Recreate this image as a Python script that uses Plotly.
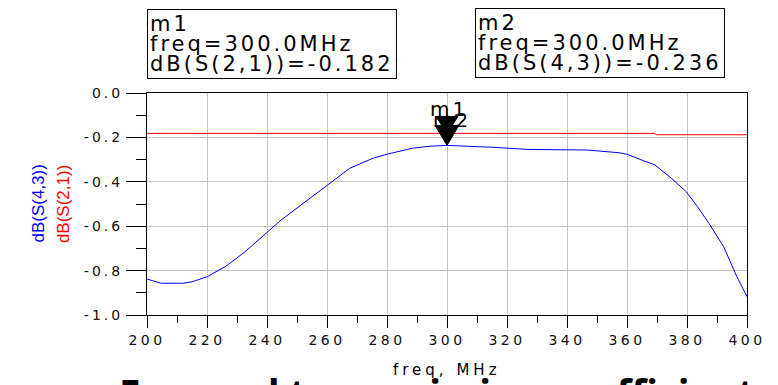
import plotly.graph_objects as go

# ---------------- data ----------------
freq_43 = [200, 204.8, 211.9, 215.2, 220.1, 226.1, 232.7, 239.8, 244.7, 251.3,
           259.4, 267.6, 275.3, 280.2, 288.4, 294, 300, 307, 316, 326.7,
           336, 346.9, 357.3, 360, 364.9, 369.3, 374.8, 379.7, 383.5, 387.3,
           392.2, 396.6, 400]
db_s43 = [-0.838, -0.857, -0.857, -0.850, -0.827, -0.782, -0.715, -0.632, -0.572, -0.505,
          -0.422, -0.339, -0.294, -0.275, -0.249, -0.240, -0.236, -0.239, -0.245, -0.254,
          -0.255, -0.257, -0.269, -0.276, -0.302, -0.324, -0.384, -0.444, -0.512, -0.587,
          -0.692, -0.827, -0.917]

freq_21 = [200, 300, 369.2, 369.8, 400]
db_s21 = [-0.182, -0.182, -0.182, -0.188, -0.188]

marker_names = ["m1", "m2"]
marker_freq = [300.0, 300.0]
marker_vals = [-0.182, -0.236]
marker_traces = ["dB(S(2,1))", "dB(S(4,3))"]

x_ticks = [200, 220, 240, 260, 280, 300, 320, 340, 360, 380, 400]
y_ticks = [-1.0, -0.8, -0.6, -0.4, -0.2, 0.0]

FONT = "DejaVu Sans"


def spaced(t, ls):
    return '<span style="letter-spacing:%spx">%s</span>' % (ls, t)


fig = go.Figure()
fig.add_trace(go.Scatter(x=freq_21, y=db_s21, mode="lines",
                         line=dict(color="#ff0000", width=1), showlegend=False))
fig.add_trace(go.Scatter(x=freq_43, y=db_s43, mode="lines",
                         line=dict(color="#0000ff", width=1), showlegend=False))

annotations = []
shapes = []
# marker triangles and labels on curve
tri_sizes = [(11, 17), (12, 20)]
label_shift = [24, 25]
for i, (nm, fx, fv) in enumerate(zip(marker_names, marker_freq, marker_vals)):
    hw, h = tri_sizes[i]
    shapes.append(dict(type="path", xref="x", yref="y", xsizemode="pixel", ysizemode="pixel",
                       xanchor=fx, yanchor=fv,
                       path="M %d %d L %d %d L 0 0 Z" % (-hw, h, hw, h),
                       fillcolor="black", line=dict(color="black", width=1)))
    annotations.append(dict(x=fx, y=fv, xref="x", yref="y", showarrow=False,
                            text=spaced(nm, 3), yshift=label_shift[i], xshift=2 + 3 * i,
                            font=dict(family=FONT, size=20, color="black")))

# marker readout boxes
box_pos = [(147, 9), (480, 8)]
SPAN = '<span style="font-size:21px;letter-spacing:3px">'
for i, nm in enumerate(marker_names):
    lines = [nm, "freq=%.1fMHz" % marker_freq[i], "%s=%.3f" % (marker_traces[i], marker_vals[i])]
    txt = "<br>".join(SPAN + ln + "</span>" for ln in lines)
    bx, by = box_pos[i]
    annotations.append(dict(x=(bx - 147) / 610, y=(315 - by) / 222, xref="paper", yref="paper",
                            xanchor="left", yanchor="top", showarrow=False, align="left",
                            text=txt,
                            font=dict(family=FONT, size=15.5, color="black"),
                            bordercolor="black", borderwidth=1, borderpad=2, bgcolor="white"))

# y axis titles
annotations.append(dict(x=(24 - 147) / 610, y=(315 - 204) / 222, xref="paper", yref="paper",
                        text="dB(S(4,3))", textangle=-90, showarrow=False,
                        font=dict(family="Liberation Sans", size=17, color="#0000ff")))
annotations.append(dict(x=(50 - 147) / 610, y=(315 - 204) / 222, xref="paper", yref="paper",
                        text="dB(S(2,1))", textangle=-90, showarrow=False,
                        font=dict(family="Liberation Sans", size=17, color="#ff0000")))
# x axis title
annotations.append(dict(x=0.5, y=(315 - 370) / 222, xref="paper", yref="paper",
                        text=spaced("freq, MHz", 4), showarrow=False, yanchor="middle",
                        font=dict(family=FONT, size=15, color="black")))
# cut-off caption below
annotations.append(dict(x=(117 - 147) / 610, y=(315 - 365) / 222, xref="paper", yref="paper",
                        xanchor="left", yanchor="top", showarrow=False,
                        text="<b>Forward transmission coefficient</b>",
                        font=dict(family="Open Sans", size=38.5, color="black")))

fig.update_layout(
    width=778, height=385,
    margin=dict(l=147, r=21, t=93, b=70),
    paper_bgcolor="white", plot_bgcolor="white",
    annotations=annotations, shapes=shapes,
)
fig.update_xaxes(range=[200, 400], tickvals=x_ticks,
                 ticktext=[spaced(str(v), 3.5) for v in x_ticks],
                 ticks="outside", ticklen=12, tickcolor="black",
                 showline=True, linecolor="black", linewidth=1, mirror=True,
                 showgrid=True, gridcolor="#c4c4c4", gridwidth=1, zeroline=False,
                 tickfont=dict(family=FONT, size=14, color="#111111"),
                 minor=dict(dtick=10, ticks="outside", ticklen=7, tickcolor="black", showgrid=False))
fig.update_yaxes(range=[-1, 0], tickvals=y_ticks,
                 ticktext=[spaced("%.1f" % v if v != 0 else "0.0", 3) for v in y_ticks],
                 ticks="outside", ticklen=20, tickcolor="black",
                 showline=True, linecolor="black", linewidth=1, mirror=True,
                 showgrid=True, gridcolor="#c4c4c4", gridwidth=1, zeroline=False,
                 tickfont=dict(family=FONT, size=14, color="#111111"),
                 minor=dict(dtick=0.1, ticks="outside", ticklen=10, tickcolor="black", showgrid=False))

fig.write_html("out.html")
